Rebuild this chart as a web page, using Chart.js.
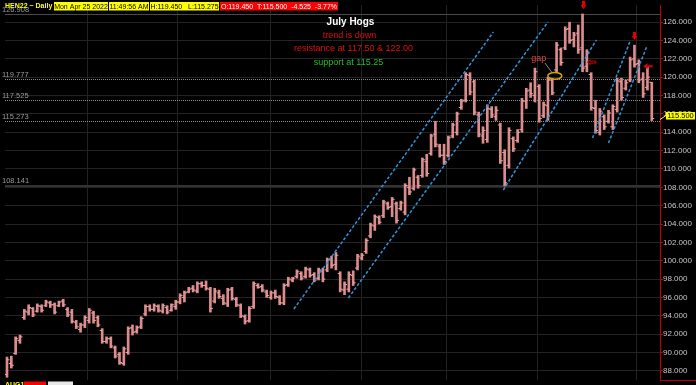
<!DOCTYPE html>
<html>
<head>
<meta charset="utf-8">
<script src="https://cdn.jsdelivr.net/npm/chart.js@4.4.1/dist/chart.umd.min.js"></script>
<style>
  html, body { margin: 0; padding: 0; background: #000; }
  canvas { display: block; }
</style>
</head>
<body>
<canvas id="chart" width="696" height="385"></canvas>
<script>
// HEN22 (July hogs) daily bars, oldest first, last bar is Apr 25 2022
const highs = [
  89.5, 89.6, 91.7, 91.9, 94.7, 95.2, 94.9, 95.3, 95.2, 95.7,
  95.6, 95.4, 95.6, 95.8, 94.9, 94.7, 93.5, 93.2, 94.0, 94.8,
  94.5, 94.0, 92.6, 91.7, 91.7, 90.7, 90.0, 90.6, 92.8, 93.0,
  92.9, 93.9, 95.2, 95.2, 95.3, 95.2, 95.3, 95.1, 95.3, 95.7,
  96.4, 96.7, 97.1, 97.3, 97.7, 97.7, 97.8, 97.1, 97.0, 96.8,
  96.3, 97.0, 97.1, 96.0, 95.3, 94.1, 95.0, 97.7, 97.5, 97.4,
  96.8, 96.7, 96.8, 96.2, 97.5, 98.2, 98.2, 99.0, 98.8, 99.3,
  99.2, 98.7, 99.2, 99.2, 100.3, 100.5, 100.9, 98.8, 97.7, 98.8,
  98.9, 100.7, 100.8, 102.4, 104.1, 105.0, 104.9, 106.6, 106.4, 106.9,
  106.4, 106.5, 108.4, 109.1, 110.1, 109.3, 111.2, 111.6, 113.8, 115.2,
  112.7, 112.7, 113.6, 115.0, 116.2, 117.6, 120.5, 120.5, 119.7, 116.2,
  114.6, 117.0, 116.8, 116.8, 115.0, 112.1, 114.5, 113.5, 114.3, 117.7,
  118.8, 119.4, 121.0, 119.2, 117.3, 120.0, 119.9, 123.8, 123.2, 125.5,
  126.0, 124.9, 125.7, 126.9, 123.0, 120.5, 117.5, 116.6, 115.9, 116.4,
  117.0, 119.9, 119.9, 119.7, 122.2, 123.5, 121.9, 120.5, 121.1, 119.45
];
const lows = [
  87.3, 88.3, 89.8, 91.0, 93.6, 94.1, 93.9, 94.4, 94.4, 95.0,
  94.9, 94.2, 95.0, 95.0, 93.9, 93.2, 92.6, 92.2, 92.7, 93.2,
  93.2, 92.8, 91.0, 91.0, 90.5, 89.4, 88.7, 88.6, 89.8, 91.9,
  92.1, 92.6, 94.0, 94.5, 94.5, 94.4, 94.3, 94.2, 94.5, 94.7,
  95.3, 95.5, 96.5, 96.6, 96.5, 97.1, 96.8, 94.4, 95.4, 95.9,
  95.2, 95.0, 95.7, 95.0, 93.8, 93.1, 93.3, 94.8, 97.0, 96.6,
  96.0, 95.8, 95.9, 95.2, 95.2, 97.2, 97.7, 98.1, 97.9, 98.1,
  98.2, 97.7, 97.9, 97.7, 98.8, 99.2, 99.0, 96.6, 96.3, 96.6,
  97.3, 99.0, 100.1, 100.8, 102.5, 103.3, 104.0, 104.7, 105.6, 104.8,
  104.1, 105.5, 105.0, 107.2, 107.7, 107.9, 109.1, 109.2, 111.5, 112.4,
  111.3, 110.5, 111.3, 113.4, 113.7, 116.5, 117.3, 118.1, 115.9, 113.5,
  112.8, 112.9, 115.6, 115.3, 110.6, 108.15, 110.1, 111.9, 112.9, 114.0,
  116.6, 117.8, 117.3, 115.1, 115.6, 115.3, 118.1, 120.6, 121.3, 123.0,
  123.7, 123.3, 122.6, 120.6, 120.6, 116.4, 113.9, 113.7, 114.3, 115.0,
  114.3, 116.2, 117.5, 118.6, 119.5, 121.1, 119.4, 117.8, 118.6, 115.275
];
const opens = [
  87.6, 88.8, 89.9, 91.3, 93.8, 94.4, 94.8, 94.5, 95.0, 95.1,
  95.4, 95.2, 95.1, 95.6, 94.7, 94.4, 93.3, 92.5, 93.0, 93.5,
  94.3, 93.8, 92.4, 91.2, 91.5, 90.5, 89.8, 88.8, 90.0, 92.7,
  92.3, 92.8, 94.2, 95.0, 94.7, 95.0, 94.5, 94.9, 94.6, 95.0,
  95.5, 96.0, 96.6, 97.0, 96.7, 97.5, 97.3, 96.9, 95.6, 96.5,
  95.9, 95.3, 96.9, 95.8, 95.1, 93.9, 93.5, 95.0, 97.3, 97.2,
  96.6, 96.0, 96.5, 96.0, 95.4, 97.4, 97.9, 98.3, 98.6, 98.3,
  99.0, 98.5, 98.1, 98.9, 99.0, 100.2, 99.6, 98.6, 96.8, 96.9,
  98.4, 99.2, 100.3, 101.0, 102.7, 103.8, 104.7, 104.9, 106.2, 105.9,
  106.2, 105.7, 105.3, 108.0, 107.9, 109.1, 109.3, 110.8, 111.7, 113.8,
  112.5, 111.5, 111.5, 113.6, 114.0, 116.7, 117.5, 120.2, 119.5, 115.9,
  113.6, 113.2, 116.5, 115.7, 114.8, 111.8, 110.4, 113.3, 113.1, 114.3,
  117.4, 118.6, 118.0, 119.0, 115.8, 116.9, 119.7, 120.8, 123.0, 123.2,
  125.3, 124.1, 124.8, 123.2, 121.2, 120.3, 116.6, 114.0, 115.7, 115.2,
  114.6, 116.5, 119.5, 118.8, 119.7, 122.0, 121.5, 119.8, 118.9, 119.45
];
const closes = [
  89.2, 88.6, 91.5, 91.7, 94.5, 94.9, 94.1, 95.1, 94.6, 95.5,
  95.2, 94.4, 95.5, 95.2, 94.1, 93.4, 92.8, 93.0, 93.8, 94.6,
  93.5, 93.0, 91.2, 91.5, 90.7, 89.6, 88.9, 90.4, 92.6, 92.2,
  92.7, 93.7, 95.0, 94.7, 95.1, 94.6, 95.1, 94.4, 95.2, 95.5,
  96.2, 96.5, 96.9, 96.8, 97.5, 97.3, 97.0, 94.8, 96.7, 96.1,
  95.4, 96.8, 95.9, 95.2, 94.0, 93.4, 94.8, 97.5, 97.1, 96.8,
  96.2, 96.5, 96.1, 95.4, 97.3, 98.0, 98.1, 98.8, 98.1, 99.1,
  98.4, 97.9, 99.0, 98.0, 100.1, 99.5, 100.6, 96.9, 97.4, 98.5,
  97.6, 100.5, 100.6, 102.2, 103.9, 104.8, 104.2, 106.4, 105.8, 106.7,
  104.4, 106.3, 108.2, 107.5, 109.9, 108.2, 111.0, 109.5, 113.6, 112.7,
  111.5, 110.8, 113.4, 114.8, 116.0, 117.4, 120.3, 118.4, 116.2, 113.8,
  114.2, 116.6, 115.9, 116.4, 110.9, 108.5, 114.2, 112.2, 114.0, 117.4,
  118.5, 118.2, 120.6, 115.5, 117.0, 119.7, 118.3, 123.5, 121.6, 125.2,
  124.0, 124.6, 123.0, 121.0, 122.6, 116.7, 114.2, 116.3, 114.6, 116.1,
  116.8, 119.6, 117.8, 119.4, 121.9, 121.4, 119.7, 118.2, 120.025, 115.5
];

// bar index of the first session of each month (Oct .. Apr)
const monthStarts = [8, 29, 50, 72, 92, 111, 134];
const yTicks = [88, 90, 92, 94, 96, 98, 100, 102, 104, 106, 108, 110, 112, 114, 116, 118, 120, 122, 124, 126];
// high, 61.8 / 50 / 38.2 retracements, low
const refLevels = [126.908, 119.777, 117.525, 115.273, 108.141];

// hand drawn channel lines: [fromBar, fromPrice, toBar, toPrice]
const trendLines = [
  [66.3, 94.74, 112.4, 124.93],
  [78.9, 95.94, 125.0, 126.02],
  [114.7, 107.71, 136.2, 124.06],
  [135.3, 113.38, 144.0, 123.95],
  [139.0, 112.83, 147.9, 123.41]
];
const downArrows = [[133, 127.45], [145, 124.06]];
const filledLeftArrows = [[147.0, 121.2]];
const hollowLeftArrows = [[134.1, 121.65]];
const gapMark = [126.6, 120.15];

const barColor = '#dc8c8c';
const tickColor = '#eaa6a6';
const gridColor = '#232323';
const axisRed = '#c00000';

Chart.defaults.font.family = "'Liberation Sans', Arial, sans-serif";

const rangeData = highs.map((h, i) => ({ x: i, y: [lows[i], h] }));
const openTicks = opens.map((o, i) => ({ x: i - 0.3, y: o }));
const closeTicks = closes.map((c, i) => ({ x: i + 0.3, y: c }));

const trendSets = trendLines.map(t => ({
  type: 'line',
  data: [{ x: t[0], y: t[1] }, { x: t[2], y: t[3] }],
  borderColor: '#2f95dc',
  borderWidth: 1.5,
  borderDash: [3, 2],
  pointRadius: 0,
  fill: false,
  order: 1
}));

const fillBox = (ctx, x, y, w, h, bg, fg, text) => {
  ctx.fillStyle = bg;
  ctx.fillRect(x, y, w, h);
  ctx.fillStyle = fg;
  ctx.textAlign = 'center';
  ctx.fillText(text, x + w / 2, y + h / 2 + 0.5);
};

const chartDecor = {
  id: 'chartDecor',
  beforeDraw(chart) {
    const { ctx, width, height } = chart;
    ctx.save();
    ctx.fillStyle = '#000';
    ctx.fillRect(0, 0, width, height);
    ctx.restore();
  },
  beforeDatasetsDraw(chart) {
    const { ctx, chartArea, scales: { y } } = chart;
    ctx.save();
    ctx.font = '7.5px "Liberation Sans"';
    ctx.textBaseline = 'bottom';
    refLevels.forEach((lvl, i) => {
      const last = i === refLevels.length - 1;
      const py = Math.round(y.getPixelForValue(lvl)) + (last ? 0 : 0.5);
      ctx.beginPath();
      if (last) {
        ctx.strokeStyle = '#333333';
        ctx.lineWidth = 2;
        ctx.setLineDash([]);
      } else if (i === 0) {
        ctx.strokeStyle = '#4a4a4a';
        ctx.lineWidth = 1;
        ctx.setLineDash([]);
      } else {
        ctx.strokeStyle = '#8c8c8c';
        ctx.lineWidth = 1;
        ctx.setLineDash([1, 1]);
      }
      ctx.moveTo(chartArea.left, py);
      ctx.lineTo(chartArea.right, py);
      ctx.stroke();
      ctx.fillStyle = '#9a9a9a';
      ctx.fillText(lvl.toFixed(3), 2, py - (last ? 1.5 : 0.5));
    });
    ctx.restore();
  },
  afterDraw(chart) {
    const { ctx, chartArea, scales: { x, y } } = chart;
    ctx.save();
    ctx.setLineDash([]);

    // header strip
    ctx.textBaseline = 'middle';
    ctx.font = 'bold 7px "Liberation Sans"';
    ctx.fillStyle = '#ffff00';
    ctx.textAlign = 'left';
    ctx.fillText('HEN22 ~ Daily', 5, 6.5);
    ctx.font = '7px "Liberation Sans"';
    fillBox(ctx, 54, 2, 54, 8.5, '#ffff00', '#000', 'Mon Apr 25 2022');
    fillBox(ctx, 109, 2, 40, 8.5, '#ffff00', '#000', '11:49:56 AM');
    fillBox(ctx, 150, 2, 69, 8.5, '#ffff00', '#000', 'H:119.450   L:115.275');
    fillBox(ctx, 220, 2, 118, 8.5, '#ff0000', '#fff', 'O:119.450  T:115.500  -4.525  -3.77%');

    // notes
    ctx.textAlign = 'center';
    ctx.font = 'bold 10px "Liberation Sans"';
    ctx.fillStyle = '#ffffff';
    ctx.fillText('July Hogs', 350.5, 22.5);
    ctx.font = '9px "Liberation Sans"';
    ctx.fillStyle = '#e01010';
    ctx.fillText('trend is down', 349.5, 36);
    ctx.fillText('resistance at 117.50 & 122.00', 353.5, 48.5);
    ctx.fillStyle = '#22c022';
    ctx.fillText('support at 115.25', 348.5, 62.5);

    // down arrows
    ctx.fillStyle = '#e00000';
    downArrows.forEach(([bx, by]) => {
      const px = Math.round(x.getPixelForValue(bx));
      const py = y.getPixelForValue(by);
      ctx.fillRect(px - 1, py - 8, 3, 4.5);
      ctx.beginPath();
      ctx.moveTo(px - 2.5, py - 4);
      ctx.lineTo(px + 3.5, py - 4);
      ctx.lineTo(px + 0.5, py);
      ctx.closePath();
      ctx.fill();
    });

    // left arrows
    filledLeftArrows.forEach(([bx, by]) => {
      const px = x.getPixelForValue(bx);
      const py = y.getPixelForValue(by);
      ctx.beginPath();
      ctx.moveTo(px, py);
      ctx.lineTo(px + 4.5, py - 3);
      ctx.lineTo(px + 4.5, py + 3);
      ctx.closePath();
      ctx.fill();
      ctx.fillRect(px + 4.5, py - 1, 5, 2);
    });
    ctx.strokeStyle = '#d00000';
    ctx.lineWidth = 1;
    hollowLeftArrows.forEach(([bx, by]) => {
      const px = x.getPixelForValue(bx);
      const py = y.getPixelForValue(by);
      ctx.beginPath();
      ctx.moveTo(px, py);
      ctx.lineTo(px + 3, py - 2.5);
      ctx.lineTo(px + 3, py - 1);
      ctx.lineTo(px + 8.5, py - 1);
      ctx.lineTo(px + 8.5, py + 1);
      ctx.lineTo(px + 3, py + 1);
      ctx.lineTo(px + 3, py + 2.5);
      ctx.closePath();
      ctx.stroke();
    });

    // gap marker
    const gx = x.getPixelForValue(gapMark[0]);
    const gy = y.getPixelForValue(gapMark[1]);
    ctx.strokeStyle = '#d4a20a';
    ctx.lineWidth = 1.5;
    ctx.beginPath();
    ctx.ellipse(gx, gy, 7, 3.3, 0, 0, Math.PI * 2);
    ctx.stroke();
    ctx.strokeStyle = '#8a8a8a';
    ctx.lineWidth = 1;
    ctx.beginPath();
    ctx.moveTo(gx - 10, gy - 13);
    ctx.lineTo(gx - 3, gy - 3.5);
    ctx.stroke();
    ctx.fillStyle = '#e04848';
    ctx.font = '9px "Liberation Sans"';
    ctx.fillText('gap', gx - 16, gy - 17);

    // last price tag
    const lastY = y.getPixelForValue(closes[closes.length - 1]);
    ctx.strokeStyle = '#ffff00';
    ctx.beginPath();
    ctx.moveTo(chartArea.right, lastY + 1);
    ctx.lineTo(chartArea.right + 6, lastY - 3);
    ctx.stroke();
    ctx.font = '7.5px "Liberation Sans"';
    fillBox(ctx, chartArea.right + 6, lastY - 6.5, 29, 7.5, '#ffff00', '#000', closes[closes.length - 1].toFixed(3));

    // bottom edge
    ctx.strokeStyle = axisRed;
    ctx.beginPath();
    ctx.moveTo(chartArea.right, chartArea.bottom + 0.5);
    ctx.lineTo(chart.width, chartArea.bottom + 0.5);
    ctx.stroke();
    ctx.font = 'bold 7px "Liberation Sans"';
    ctx.textAlign = 'left';
    ctx.fillStyle = '#ffff00';
    ctx.fillText('AUG1', 5, 385);
    ctx.fillStyle = '#ff0000';
    ctx.fillRect(24, 381.5, 22, 5);
    ctx.fillStyle = '#e8e8e8';
    ctx.fillRect(48, 381.5, 25, 5);
    ctx.restore();
  }
};

new Chart(document.getElementById('chart'), {
  type: 'bar',
  data: {
    datasets: [
      {
        type: 'bar',
        data: rangeData,
        backgroundColor: barColor,
        borderWidth: 0,
        barThickness: 2,
        grouped: false,
        order: 3
      },
      {
        type: 'scatter',
        data: openTicks,
        pointStyle: 'line',
        pointRadius: 1.2,
        borderColor: tickColor,
        borderWidth: 1,
        order: 2
      },
      {
        type: 'scatter',
        data: closeTicks,
        pointStyle: 'line',
        pointRadius: 1.2,
        borderColor: tickColor,
        borderWidth: 1,
        order: 2
      },
      ...trendSets
    ]
  },
  options: {
    responsive: false,
    animation: false,
    layout: { padding: { top: 5, bottom: 5, left: 0, right: 0 } },
    plugins: {
      legend: { display: false },
      tooltip: { enabled: false }
    },
    scales: {
      x: {
        type: 'linear',
        min: -0.46,
        max: 150.9,
        offset: false,
        grid: { color: gridColor, drawTicks: false },
        border: { display: false },
        ticks: { display: false },
        afterBuildTicks: scale => {
          scale.ticks = monthStarts.map(v => ({ value: v }));
        },
        afterFit: scale => {
          scale.height = 0;
        }
      },
      y: {
        position: 'right',
        min: 87.0,
        max: 127.875,
        grid: { color: gridColor, tickColor: axisRed, tickLength: 3 },
        border: { color: axisRed },
        ticks: {
          color: '#c8c8c8',
          padding: 0,
          font: { size: 8 },
          callback: v => v.toFixed(3)
        },
        afterBuildTicks: scale => {
          scale.ticks = yTicks.map(v => ({ value: v }));
        },
        afterFit: scale => {
          scale.width = 36;
        }
      }
    }
  },
  plugins: [chartDecor]
});
</script>
</body>
</html>
